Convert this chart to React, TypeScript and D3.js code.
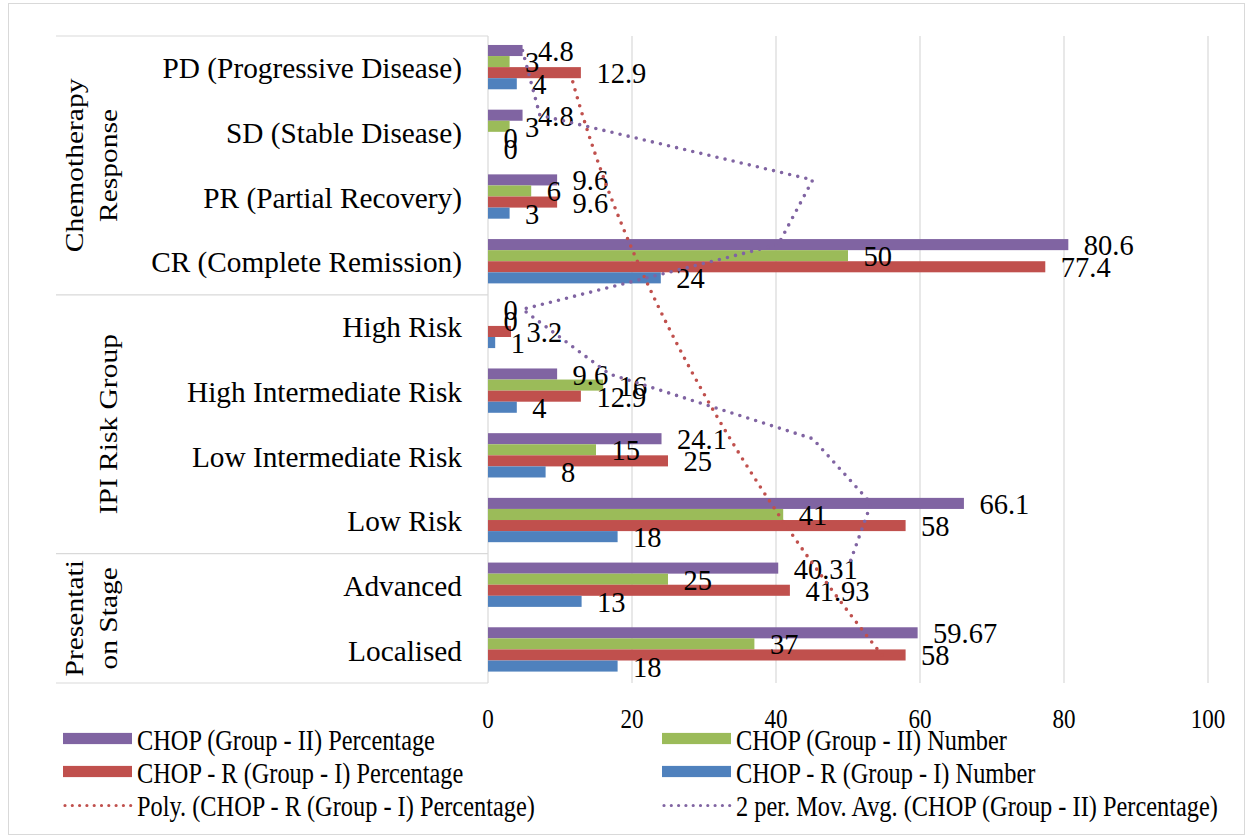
import React from "react";
import * as d3 from "d3";

const categories = [
  "PD (Progressive Disease)",
  "SD (Stable Disease)",
  "PR (Partial Recovery)",
  "CR (Complete Remission)",
  "High Risk",
  "High Intermediate Risk",
  "Low Intermediate Risk",
  "Low Risk",
  "Advanced",
  "Localised",
];

const groupNames = [["Chemotherapy", "Response"], ["IPI Risk Group"], ["Presentati", "on Stage"]];
const groupStarts = [0, 4, 8];
const groupEnds = [4, 8, 10];

const chopIIPct = [4.8, 4.8, 9.6, 80.6, 0, 9.6, 24.1, 66.1, 40.31, 59.67];
const chopIINum = [3, 3, 6, 50, 0, 16, 15, 41, 25, 37];
const chopRIPct = [12.9, 0, 9.6, 77.4, 3.2, 12.9, 25, 58, 41.93, 58];
const chopRINum = [4, 0, 3, 24, 1, 4, 8, 18, 13, 18];

const seriesKeys = ["iiPct", "iiNum", "riPct", "riNum"];
const seriesValues = [chopIIPct, chopIINum, chopRIPct, chopRINum];
const seriesColors = ["#8064A2", "#9BBB59", "#C0504D", "#4F81BD"];
const seriesNames = [
  "CHOP (Group - II) Percentage",
  "CHOP (Group - II) Number",
  "CHOP - R (Group - I) Percentage",
  "CHOP - R (Group - I) Number",
];
const trendNames = [
  "Poly. (CHOP - R (Group - I) Percentage)",
  "2 per. Mov. Avg. (CHOP (Group - II) Percentage)",
];

const xTicks = [0, 20, 40, 60, 80, 100];

const FONT = "'Liberation Serif', 'Times New Roman', serif";

// quadratic least squares fit
function polyFit2(xs: number[], ys: number[]) {
  const n = xs.length;
  let s0 = n, s1 = 0, s2 = 0, s3 = 0, s4 = 0, t0 = 0, t1 = 0, t2 = 0;
  for (let i = 0; i < n; i++) {
    const x = xs[i], y = ys[i];
    s1 += x; s2 += x * x; s3 += x * x * x; s4 += x * x * x * x;
    t0 += y; t1 += x * y; t2 += x * x * y;
  }
  const A = [
    [s0, s1, s2, t0],
    [s1, s2, s3, t1],
    [s2, s3, s4, t2],
  ];
  for (let c = 0; c < 3; c++) {
    let p = c;
    for (let r = c + 1; r < 3; r++) if (Math.abs(A[r][c]) > Math.abs(A[p][c])) p = r;
    [A[c], A[p]] = [A[p], A[c]];
    for (let r = 0; r < 3; r++) {
      if (r === c) continue;
      const f = A[r][c] / A[c][c];
      for (let k = c; k < 4; k++) A[r][k] -= f * A[c][k];
    }
  }
  return [A[0][3] / A[0][0], A[1][3] / A[1][1], A[2][3] / A[2][2]];
}

export default function App() {
  const W = 1247, H = 835;
  const X0 = 488, X1 = 1208, Y0 = 36, Y1 = 683;
  const x = d3.scaleLinear().domain([0, 100]).range([X0, X1]);
  const y = d3.scaleBand<string>().domain(categories).range([Y0, Y1]).padding(0);
  const inner = d3
    .scaleBand<string>()
    .domain(seriesKeys)
    .range([0, y.bandwidth()])
    .paddingInner(0)
    .paddingOuter(0.92)
    .align(0.44);
  const bw = inner.bandwidth();
  const n = categories.length;

  const barCenter = (d: number, key: string) => (y(categories[d]) as number) + (inner(key) as number) + bw / 2;

  // polynomial (order 2) trendline of CHOP - R percentage (Excel index: bottom category = 1)
  const excelX = categories.map((_, d) => n - d);
  const [a0, a1, a2] = polyFit2(excelX, chopRIPct);
  const polyPts: [number, number][] = d3.range(0, 91).map((i) => {
    const ex = 1 + (i * 9) / 90;
    const v = a0 + a1 * ex + a2 * ex * ex;
    const yy = barCenter(0, "riPct") + (n - ex) * y.step();
    return [x(v), yy];
  });

  // 2-period moving average of CHOP (Group - II) percentage
  const maPts: [number, number][] = d3.range(0, n - 1).map((d) => [
    x((chopIIPct[d] + chopIIPct[d + 1]) / 2),
    barCenter(d, "iiPct"),
  ]);

  const line = d3.line();
  const grid = "#D9D9D9";

  const legendRows = [738.5, 771.5, 804.5];
  const legendCols = [63, 662];
  const legendItems = [
    { col: 0, row: 0, kind: "rect", color: seriesColors[0], label: seriesNames[0] },
    { col: 1, row: 0, kind: "rect", color: seriesColors[1], label: seriesNames[1] },
    { col: 0, row: 1, kind: "rect", color: seriesColors[2], label: seriesNames[2] },
    { col: 1, row: 1, kind: "rect", color: seriesColors[3], label: seriesNames[3] },
    { col: 0, row: 2, kind: "dot", color: seriesColors[2], label: trendNames[0] },
    { col: 1, row: 2, kind: "dot", color: seriesColors[0], label: trendNames[1] },
  ];

  return (
    <svg
      width={W}
      height={H}
      style={{ position: "absolute", left: 0, top: 0, background: "#fff" }}
      fontFamily={FONT}
    >
      <rect x={0} y={0} width={W} height={H} fill="#fff" />
      <rect x={8.5} y={3.5} width={1236} height={831} fill="none" stroke={grid} strokeWidth={1} />

      {/* gridlines */}
      {xTicks.map((t) => (
        <line key={"g" + t} x1={x(t)} x2={x(t)} y1={Y0} y2={Y1} stroke={grid} strokeWidth={1.2} />
      ))}

      {/* group separators */}
      {[Y0, ...groupEnds.map((e) => (y(categories[e - 1]) as number) + y.bandwidth())].map((yy, i) => (
        <line key={"s" + i} x1={56} x2={X0} y1={yy} y2={yy} stroke={grid} strokeWidth={1.2} />
      ))}

      {/* bars */}
      {seriesKeys.map((key, s) =>
        seriesValues[s].map((v, d) => (
          <rect
            key={key + d}
            x={x(0)}
            y={(y(categories[d]) as number) + (inner(key) as number)}
            width={x(v) - x(0)}
            height={bw}
            fill={seriesColors[s]}
          />
        ))
      )}

      {/* data labels */}
      {seriesKeys.map((key, s) =>
        seriesValues[s].map((v, d) => (
          <text key={"l" + key + d} x={x(v) + 15.5} y={barCenter(d, key) + 10.5} fontSize={28.5} fill="#000">
            {String(v)}
          </text>
        ))
      )}

      {/* trendlines */}
      <path
        d={line(polyPts) as string}
        fill="none"
        stroke={seriesColors[2]}
        strokeWidth={3.6}
        strokeLinecap="round"
        strokeDasharray="0 8.3"
      />
      <path
        d={line(maPts) as string}
        fill="none"
        stroke={seriesColors[0]}
        strokeWidth={3.6}
        strokeLinecap="round"
        strokeDasharray="0 8.3"
      />

      {/* category labels */}
      {categories.map((c) => (
        <text
          key={"c" + c}
          x={462}
          y={(y(c) as number) + y.bandwidth() / 2 + 10}
          textAnchor="end"
          fontSize={29.3}
          fill="#000"
        >
          {c}
        </text>
      ))}

      {/* group labels */}
      {groupNames.map((lines, g) => {
        const cy =
          ((y(categories[groupStarts[g]]) as number) +
            (y(categories[groupEnds[g] - 1]) as number) +
            y.bandwidth()) /
          2;
        return lines.map((ln, i) => {
          const bx = 117 - 34 * (lines.length - 1 - i);
          return (
            <text
              key={"gl" + g + i}
              transform={`translate(${bx},${cy}) scale(0.855,1) rotate(-90)`}
              textAnchor="middle"
              fontSize={29.5}
              fill="#000"
            >
              {ln}
            </text>
          );
        });
      })}

      {/* x tick labels */}
      {xTicks.map((t) => (
        <text
          key={"t" + t}
          transform={`translate(${x(t)},728) scale(0.84,1)`}
          textAnchor="middle"
          fontSize={27.5}
          fill="#000"
        >
          {t}
        </text>
      ))}

      {/* legend */}
      {legendItems.map((it, i) => {
        const lx = legendCols[it.col];
        const ly = legendRows[it.row];
        return (
          <g key={"lg" + i}>
            {it.kind === "rect" ? (
              <rect x={lx} y={ly - 5.6} width={69} height={11.2} fill={it.color} />
            ) : (
              <line
                x1={lx + 2}
                x2={lx + 68}
                y1={ly + 1}
                y2={ly + 1}
                stroke={it.color}
                strokeWidth={3.2}
                strokeLinecap="round"
                strokeDasharray="0 7.3"
              />
            )}
            <text
              transform={`translate(${lx + 74},${ly + 11}) scale(0.84,1)`}
              fontSize={29}
              fill="#000"
            >
              {it.label}
            </text>
          </g>
        );
      })}
    </svg>
  );
}
